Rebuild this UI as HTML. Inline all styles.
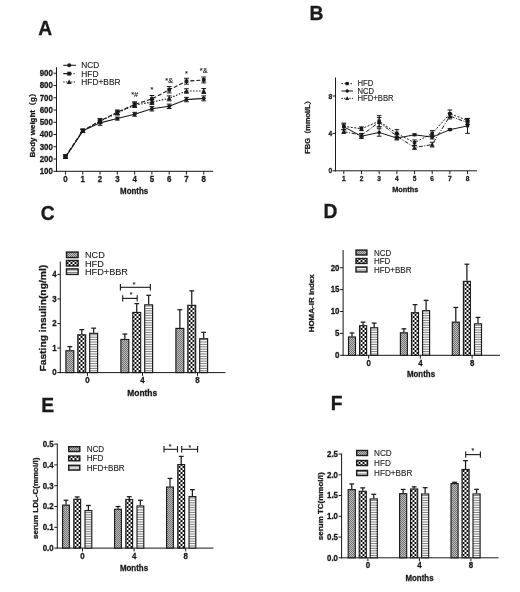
<!DOCTYPE html>
<html><head><meta charset="utf-8"><title>Figure</title>
<style>
html,body{margin:0;padding:0;background:#fff;}
svg{display:block;font-family:"Liberation Sans", "Noto Sans CJK SC", sans-serif;}
.b{font-weight:bold;fill:#1a1a1a;stroke:#1a1a1a;stroke-width:0.3px;}
.r{fill:#1a1a1a;stroke:#1a1a1a;stroke-width:0.12px;}
</style></head><body>
<svg width="520" height="592" viewBox="0 0 520 592">
<defs>
<pattern id="pN" width="2" height="2" patternUnits="userSpaceOnUse"><rect width="2" height="2" fill="#bdbdbd"/><rect width="1" height="1" fill="#737373"/><rect x="1" y="1" width="1" height="1" fill="#737373"/></pattern>
<pattern id="pH" width="4" height="4" patternUnits="userSpaceOnUse" x="0.5" y="0"><rect width="4" height="4" fill="#fff"/><rect width="2" height="2" fill="#111"/><rect x="2" y="2" width="2" height="2" fill="#111"/></pattern>
<pattern id="pB" width="12" height="12" patternUnits="userSpaceOnUse"><rect width="12" height="12" fill="#fff"/><rect width="12" height="1" y="0.7" fill="#7a7a7a"/><rect width="12" height="1" y="3.1" fill="#7a7a7a"/><rect width="12" height="1" y="5.5" fill="#7a7a7a"/><rect width="12" height="1" y="7.9" fill="#7a7a7a"/><rect width="12" height="1" y="10.3" fill="#7a7a7a"/></pattern>
</defs>
<filter id="bl" x="0" y="0" width="100%" height="100%" filterUnits="userSpaceOnUse"><feGaussianBlur stdDeviation="0.35"/></filter>
<rect width="520" height="592" fill="#fff"/>
<g filter="url(#bl)">

<text class="b" transform="translate(38.30 34.80) scale(1 1)" font-size="19.3" text-anchor="start">A</text>
<text class="b" transform="translate(309.50 20.20) scale(1 1)" font-size="19.3" text-anchor="start">B</text>
<text class="b" transform="translate(40.80 220.00) scale(1 1)" font-size="19.3" text-anchor="start">C</text>
<text class="b" transform="translate(323.60 218.20) scale(1 1)" font-size="19.3" text-anchor="start">D</text>
<text class="b" transform="translate(41.20 412.30) scale(1 1)" font-size="19.3" text-anchor="start">E</text>
<text class="b" transform="translate(330.80 409.50) scale(1 1)" font-size="19.3" text-anchor="start">F</text>
<line x1="56.50" y1="67.30" x2="56.50" y2="171.80" stroke="#1a1a1a" stroke-width="1.0"/>
<line x1="56.00" y1="171.30" x2="213.00" y2="171.30" stroke="#1a1a1a" stroke-width="1.0"/>
<line x1="53.50" y1="171.30" x2="56.50" y2="171.30" stroke="#1a1a1a" stroke-width="1"/>
<text class="b" transform="translate(52.90 174.10) scale(0.92 1)" font-size="8.6" text-anchor="end">100</text>
<line x1="53.50" y1="159.04" x2="56.50" y2="159.04" stroke="#1a1a1a" stroke-width="1"/>
<text class="b" transform="translate(52.90 161.84) scale(0.92 1)" font-size="8.6" text-anchor="end">200</text>
<line x1="53.50" y1="146.78" x2="56.50" y2="146.78" stroke="#1a1a1a" stroke-width="1"/>
<text class="b" transform="translate(52.90 149.58) scale(0.92 1)" font-size="8.6" text-anchor="end">300</text>
<line x1="53.50" y1="134.52" x2="56.50" y2="134.52" stroke="#1a1a1a" stroke-width="1"/>
<text class="b" transform="translate(52.90 137.32) scale(0.92 1)" font-size="8.6" text-anchor="end">400</text>
<line x1="53.50" y1="122.26" x2="56.50" y2="122.26" stroke="#1a1a1a" stroke-width="1"/>
<text class="b" transform="translate(52.90 125.06) scale(0.92 1)" font-size="8.6" text-anchor="end">500</text>
<line x1="53.50" y1="110.00" x2="56.50" y2="110.00" stroke="#1a1a1a" stroke-width="1"/>
<text class="b" transform="translate(52.90 112.80) scale(0.92 1)" font-size="8.6" text-anchor="end">600</text>
<line x1="53.50" y1="97.74" x2="56.50" y2="97.74" stroke="#1a1a1a" stroke-width="1"/>
<text class="b" transform="translate(52.90 100.54) scale(0.92 1)" font-size="8.6" text-anchor="end">700</text>
<line x1="53.50" y1="85.48" x2="56.50" y2="85.48" stroke="#1a1a1a" stroke-width="1"/>
<text class="b" transform="translate(52.90 88.28) scale(0.92 1)" font-size="8.6" text-anchor="end">800</text>
<line x1="53.50" y1="73.22" x2="56.50" y2="73.22" stroke="#1a1a1a" stroke-width="1"/>
<text class="b" transform="translate(52.90 76.02) scale(0.92 1)" font-size="8.6" text-anchor="end">900</text>
<line x1="65.50" y1="171.30" x2="65.50" y2="174.60" stroke="#1a1a1a" stroke-width="1"/>
<text class="b" transform="translate(65.50 181.60) scale(0.92 1)" font-size="8.6" text-anchor="middle">0</text>
<line x1="82.78" y1="171.30" x2="82.78" y2="174.60" stroke="#1a1a1a" stroke-width="1"/>
<text class="b" transform="translate(82.78 181.60) scale(0.92 1)" font-size="8.6" text-anchor="middle">1</text>
<line x1="100.06" y1="171.30" x2="100.06" y2="174.60" stroke="#1a1a1a" stroke-width="1"/>
<text class="b" transform="translate(100.06 181.60) scale(0.92 1)" font-size="8.6" text-anchor="middle">2</text>
<line x1="117.34" y1="171.30" x2="117.34" y2="174.60" stroke="#1a1a1a" stroke-width="1"/>
<text class="b" transform="translate(117.34 181.60) scale(0.92 1)" font-size="8.6" text-anchor="middle">3</text>
<line x1="134.62" y1="171.30" x2="134.62" y2="174.60" stroke="#1a1a1a" stroke-width="1"/>
<text class="b" transform="translate(134.62 181.60) scale(0.92 1)" font-size="8.6" text-anchor="middle">4</text>
<line x1="151.90" y1="171.30" x2="151.90" y2="174.60" stroke="#1a1a1a" stroke-width="1"/>
<text class="b" transform="translate(151.90 181.60) scale(0.92 1)" font-size="8.6" text-anchor="middle">5</text>
<line x1="169.18" y1="171.30" x2="169.18" y2="174.60" stroke="#1a1a1a" stroke-width="1"/>
<text class="b" transform="translate(169.18 181.60) scale(0.92 1)" font-size="8.6" text-anchor="middle">6</text>
<line x1="186.46" y1="171.30" x2="186.46" y2="174.60" stroke="#1a1a1a" stroke-width="1"/>
<text class="b" transform="translate(186.46 181.60) scale(0.92 1)" font-size="8.6" text-anchor="middle">7</text>
<line x1="203.74" y1="171.30" x2="203.74" y2="174.60" stroke="#1a1a1a" stroke-width="1"/>
<text class="b" transform="translate(203.74 181.60) scale(0.92 1)" font-size="8.6" text-anchor="middle">8</text>
<text class="b" transform="translate(134.10 194.00) scale(0.92 1)" font-size="8.6" text-anchor="middle">Months</text>
<text class="b" transform="translate(34.80 123.30) scale(0.92 1) rotate(-90)" font-size="8.0" text-anchor="middle">Body weight（g）</text>
<polyline points="65.50,157.20 82.78,130.84 100.06,122.87 117.34,118.58 134.62,114.29 151.90,108.77 169.18,106.32 186.46,99.58 203.74,98.35" fill="none" stroke="#1a1a1a" stroke-width="1.1"/>
<polyline points="65.50,156.34 82.78,130.60 100.06,121.03 117.34,112.21 134.62,104.48 151.90,98.97 169.18,89.77 186.46,81.19 203.74,79.96" fill="none" stroke="#1a1a1a" stroke-width="1.1" stroke-dasharray="4 2"/>
<polyline points="65.50,157.20 82.78,131.09 100.06,121.03 117.34,113.07 134.62,105.10 151.90,102.03 169.18,98.35 186.46,91.00 203.74,91.00" fill="none" stroke="#1a1a1a" stroke-width="1.1" stroke-dasharray="1.5 1.5"/>
<line x1="65.50" y1="154.63" x2="65.50" y2="158.06" stroke="#1a1a1a" stroke-width="1"/>
<line x1="63.10" y1="154.63" x2="67.90" y2="154.63" stroke="#1a1a1a" stroke-width="1"/>
<line x1="63.10" y1="158.06" x2="67.90" y2="158.06" stroke="#1a1a1a" stroke-width="1"/>
<rect x="63.66" y="154.50" width="3.69" height="3.69" fill="#1a1a1a"/>
<line x1="82.78" y1="128.88" x2="82.78" y2="132.31" stroke="#1a1a1a" stroke-width="1"/>
<line x1="80.38" y1="128.88" x2="85.18" y2="128.88" stroke="#1a1a1a" stroke-width="1"/>
<line x1="80.38" y1="132.31" x2="85.18" y2="132.31" stroke="#1a1a1a" stroke-width="1"/>
<rect x="80.94" y="128.75" width="3.69" height="3.69" fill="#1a1a1a"/>
<line x1="100.06" y1="118.58" x2="100.06" y2="123.49" stroke="#1a1a1a" stroke-width="1"/>
<line x1="97.66" y1="118.58" x2="102.46" y2="118.58" stroke="#1a1a1a" stroke-width="1"/>
<line x1="97.66" y1="123.49" x2="102.46" y2="123.49" stroke="#1a1a1a" stroke-width="1"/>
<rect x="98.22" y="119.19" width="3.69" height="3.69" fill="#1a1a1a"/>
<line x1="117.34" y1="110.00" x2="117.34" y2="114.41" stroke="#1a1a1a" stroke-width="1"/>
<line x1="114.94" y1="110.00" x2="119.74" y2="110.00" stroke="#1a1a1a" stroke-width="1"/>
<line x1="114.94" y1="114.41" x2="119.74" y2="114.41" stroke="#1a1a1a" stroke-width="1"/>
<rect x="115.50" y="110.36" width="3.69" height="3.69" fill="#1a1a1a"/>
<line x1="134.62" y1="101.79" x2="134.62" y2="107.18" stroke="#1a1a1a" stroke-width="1"/>
<line x1="132.22" y1="101.79" x2="137.02" y2="101.79" stroke="#1a1a1a" stroke-width="1"/>
<line x1="132.22" y1="107.18" x2="137.02" y2="107.18" stroke="#1a1a1a" stroke-width="1"/>
<rect x="132.78" y="102.64" width="3.69" height="3.69" fill="#1a1a1a"/>
<line x1="151.90" y1="95.53" x2="151.90" y2="102.40" stroke="#1a1a1a" stroke-width="1"/>
<line x1="149.50" y1="95.53" x2="154.30" y2="95.53" stroke="#1a1a1a" stroke-width="1"/>
<line x1="149.50" y1="102.40" x2="154.30" y2="102.40" stroke="#1a1a1a" stroke-width="1"/>
<rect x="150.06" y="97.12" width="3.69" height="3.69" fill="#1a1a1a"/>
<line x1="169.18" y1="86.58" x2="169.18" y2="92.96" stroke="#1a1a1a" stroke-width="1"/>
<line x1="166.78" y1="86.58" x2="171.58" y2="86.58" stroke="#1a1a1a" stroke-width="1"/>
<line x1="166.78" y1="92.96" x2="171.58" y2="92.96" stroke="#1a1a1a" stroke-width="1"/>
<rect x="167.34" y="87.93" width="3.69" height="3.69" fill="#1a1a1a"/>
<line x1="186.46" y1="78.25" x2="186.46" y2="84.13" stroke="#1a1a1a" stroke-width="1"/>
<line x1="184.06" y1="78.25" x2="188.86" y2="78.25" stroke="#1a1a1a" stroke-width="1"/>
<line x1="184.06" y1="84.13" x2="188.86" y2="84.13" stroke="#1a1a1a" stroke-width="1"/>
<rect x="184.62" y="79.35" width="3.69" height="3.69" fill="#1a1a1a"/>
<line x1="203.74" y1="77.02" x2="203.74" y2="82.91" stroke="#1a1a1a" stroke-width="1"/>
<line x1="201.34" y1="77.02" x2="206.14" y2="77.02" stroke="#1a1a1a" stroke-width="1"/>
<line x1="201.34" y1="82.91" x2="206.14" y2="82.91" stroke="#1a1a1a" stroke-width="1"/>
<rect x="201.90" y="78.12" width="3.69" height="3.69" fill="#1a1a1a"/>
<line x1="65.50" y1="155.98" x2="65.50" y2="158.43" stroke="#1a1a1a" stroke-width="1"/>
<line x1="63.10" y1="155.98" x2="67.90" y2="155.98" stroke="#1a1a1a" stroke-width="1"/>
<line x1="63.10" y1="158.43" x2="67.90" y2="158.43" stroke="#1a1a1a" stroke-width="1"/>
<polygon points="65.50,154.83 63.12,159.10 67.88,159.10" fill="#1a1a1a"/>
<line x1="82.78" y1="129.62" x2="82.78" y2="132.56" stroke="#1a1a1a" stroke-width="1"/>
<line x1="80.38" y1="129.62" x2="85.18" y2="129.62" stroke="#1a1a1a" stroke-width="1"/>
<line x1="80.38" y1="132.56" x2="85.18" y2="132.56" stroke="#1a1a1a" stroke-width="1"/>
<polygon points="82.78,128.71 80.41,132.99 85.16,132.99" fill="#1a1a1a"/>
<line x1="100.06" y1="119.07" x2="100.06" y2="123.00" stroke="#1a1a1a" stroke-width="1"/>
<line x1="97.66" y1="119.07" x2="102.46" y2="119.07" stroke="#1a1a1a" stroke-width="1"/>
<line x1="97.66" y1="123.00" x2="102.46" y2="123.00" stroke="#1a1a1a" stroke-width="1"/>
<polygon points="100.06,118.66 97.69,122.93 102.44,122.93" fill="#1a1a1a"/>
<line x1="117.34" y1="111.10" x2="117.34" y2="115.03" stroke="#1a1a1a" stroke-width="1"/>
<line x1="114.94" y1="111.10" x2="119.74" y2="111.10" stroke="#1a1a1a" stroke-width="1"/>
<line x1="114.94" y1="115.03" x2="119.74" y2="115.03" stroke="#1a1a1a" stroke-width="1"/>
<polygon points="117.34,110.69 114.97,114.97 119.72,114.97" fill="#1a1a1a"/>
<line x1="134.62" y1="102.89" x2="134.62" y2="107.30" stroke="#1a1a1a" stroke-width="1"/>
<line x1="132.22" y1="102.89" x2="137.02" y2="102.89" stroke="#1a1a1a" stroke-width="1"/>
<line x1="132.22" y1="107.30" x2="137.02" y2="107.30" stroke="#1a1a1a" stroke-width="1"/>
<polygon points="134.62,102.72 132.25,107.00 137.00,107.00" fill="#1a1a1a"/>
<line x1="151.90" y1="99.58" x2="151.90" y2="104.48" stroke="#1a1a1a" stroke-width="1"/>
<line x1="149.50" y1="99.58" x2="154.30" y2="99.58" stroke="#1a1a1a" stroke-width="1"/>
<line x1="149.50" y1="104.48" x2="154.30" y2="104.48" stroke="#1a1a1a" stroke-width="1"/>
<polygon points="151.90,99.66 149.53,103.93 154.28,103.93" fill="#1a1a1a"/>
<line x1="169.18" y1="95.90" x2="169.18" y2="100.81" stroke="#1a1a1a" stroke-width="1"/>
<line x1="166.78" y1="95.90" x2="171.58" y2="95.90" stroke="#1a1a1a" stroke-width="1"/>
<line x1="166.78" y1="100.81" x2="171.58" y2="100.81" stroke="#1a1a1a" stroke-width="1"/>
<polygon points="169.18,95.98 166.81,100.25 171.56,100.25" fill="#1a1a1a"/>
<line x1="186.46" y1="88.79" x2="186.46" y2="93.20" stroke="#1a1a1a" stroke-width="1"/>
<line x1="184.06" y1="88.79" x2="188.86" y2="88.79" stroke="#1a1a1a" stroke-width="1"/>
<line x1="184.06" y1="93.20" x2="188.86" y2="93.20" stroke="#1a1a1a" stroke-width="1"/>
<polygon points="186.46,88.62 184.09,92.90 188.84,92.90" fill="#1a1a1a"/>
<line x1="203.74" y1="88.55" x2="203.74" y2="93.45" stroke="#1a1a1a" stroke-width="1"/>
<line x1="201.34" y1="88.55" x2="206.14" y2="88.55" stroke="#1a1a1a" stroke-width="1"/>
<line x1="201.34" y1="93.45" x2="206.14" y2="93.45" stroke="#1a1a1a" stroke-width="1"/>
<polygon points="203.74,88.62 201.37,92.90 206.12,92.90" fill="#1a1a1a"/>
<line x1="65.50" y1="155.98" x2="65.50" y2="158.43" stroke="#1a1a1a" stroke-width="1"/>
<line x1="63.10" y1="155.98" x2="67.90" y2="155.98" stroke="#1a1a1a" stroke-width="1"/>
<line x1="63.10" y1="158.43" x2="67.90" y2="158.43" stroke="#1a1a1a" stroke-width="1"/>
<circle cx="65.50" cy="157.20" r="1.9" fill="#1a1a1a"/>
<line x1="82.78" y1="129.37" x2="82.78" y2="132.31" stroke="#1a1a1a" stroke-width="1"/>
<line x1="80.38" y1="129.37" x2="85.18" y2="129.37" stroke="#1a1a1a" stroke-width="1"/>
<line x1="80.38" y1="132.31" x2="85.18" y2="132.31" stroke="#1a1a1a" stroke-width="1"/>
<circle cx="82.78" cy="130.84" r="1.9" fill="#1a1a1a"/>
<line x1="100.06" y1="120.42" x2="100.06" y2="125.33" stroke="#1a1a1a" stroke-width="1"/>
<line x1="97.66" y1="120.42" x2="102.46" y2="120.42" stroke="#1a1a1a" stroke-width="1"/>
<line x1="97.66" y1="125.33" x2="102.46" y2="125.33" stroke="#1a1a1a" stroke-width="1"/>
<circle cx="100.06" cy="122.87" r="1.9" fill="#1a1a1a"/>
<line x1="117.34" y1="117.11" x2="117.34" y2="120.05" stroke="#1a1a1a" stroke-width="1"/>
<line x1="114.94" y1="117.11" x2="119.74" y2="117.11" stroke="#1a1a1a" stroke-width="1"/>
<line x1="114.94" y1="120.05" x2="119.74" y2="120.05" stroke="#1a1a1a" stroke-width="1"/>
<circle cx="117.34" cy="118.58" r="1.9" fill="#1a1a1a"/>
<line x1="134.62" y1="112.33" x2="134.62" y2="116.25" stroke="#1a1a1a" stroke-width="1"/>
<line x1="132.22" y1="112.33" x2="137.02" y2="112.33" stroke="#1a1a1a" stroke-width="1"/>
<line x1="132.22" y1="116.25" x2="137.02" y2="116.25" stroke="#1a1a1a" stroke-width="1"/>
<circle cx="134.62" cy="114.29" r="1.9" fill="#1a1a1a"/>
<line x1="151.90" y1="106.57" x2="151.90" y2="110.98" stroke="#1a1a1a" stroke-width="1"/>
<line x1="149.50" y1="106.57" x2="154.30" y2="106.57" stroke="#1a1a1a" stroke-width="1"/>
<line x1="149.50" y1="110.98" x2="154.30" y2="110.98" stroke="#1a1a1a" stroke-width="1"/>
<circle cx="151.90" cy="108.77" r="1.9" fill="#1a1a1a"/>
<line x1="169.18" y1="104.12" x2="169.18" y2="108.53" stroke="#1a1a1a" stroke-width="1"/>
<line x1="166.78" y1="104.12" x2="171.58" y2="104.12" stroke="#1a1a1a" stroke-width="1"/>
<line x1="166.78" y1="108.53" x2="171.58" y2="108.53" stroke="#1a1a1a" stroke-width="1"/>
<circle cx="169.18" cy="106.32" r="1.9" fill="#1a1a1a"/>
<line x1="186.46" y1="97.37" x2="186.46" y2="101.79" stroke="#1a1a1a" stroke-width="1"/>
<line x1="184.06" y1="97.37" x2="188.86" y2="97.37" stroke="#1a1a1a" stroke-width="1"/>
<line x1="184.06" y1="101.79" x2="188.86" y2="101.79" stroke="#1a1a1a" stroke-width="1"/>
<circle cx="186.46" cy="99.58" r="1.9" fill="#1a1a1a"/>
<line x1="203.74" y1="95.90" x2="203.74" y2="100.81" stroke="#1a1a1a" stroke-width="1"/>
<line x1="201.34" y1="95.90" x2="206.14" y2="95.90" stroke="#1a1a1a" stroke-width="1"/>
<line x1="201.34" y1="100.81" x2="206.14" y2="100.81" stroke="#1a1a1a" stroke-width="1"/>
<circle cx="203.74" cy="98.35" r="1.9" fill="#1a1a1a"/>
<line x1="63.30" y1="65.30" x2="75.80" y2="65.30" stroke="#1a1a1a" stroke-width="1.1"/>
<circle cx="69.20" cy="65.30" r="2.0" fill="#1a1a1a"/>
<text class="r" transform="translate(81.30 68.30) scale(0.9 1)" font-size="9.3" text-anchor="start">NCD</text>
<line x1="63.30" y1="73.65" x2="75.80" y2="73.65" stroke="#1a1a1a" stroke-width="1.1" stroke-dasharray="8.5 1.8 1 10"/>
<rect x="67.26" y="71.71" width="3.88" height="3.88" fill="#1a1a1a"/>
<text class="r" transform="translate(81.30 76.65) scale(0.9 1)" font-size="9.3" text-anchor="start">HFD</text>
<line x1="63.30" y1="82.00" x2="75.80" y2="82.00" stroke="#1a1a1a" stroke-width="1.1" stroke-dasharray="1.3 1.3"/>
<polygon points="69.20,79.50 66.70,84.00 71.70,84.00" fill="#1a1a1a"/>
<text class="r" transform="translate(81.30 85.00) scale(0.9 1)" font-size="9.3" text-anchor="start">HFD+BBR</text>
<text class="r" transform="translate(134.62 96.55) scale(0.92 1)" font-size="8" text-anchor="middle">*#</text>
<text class="r" transform="translate(151.90 92.02) scale(0.92 1)" font-size="8" text-anchor="middle">*</text>
<text class="r" transform="translate(169.18 83.07) scale(0.92 1)" font-size="8" text-anchor="middle">*&amp;</text>
<text class="r" transform="translate(186.46 76.08) scale(0.92 1)" font-size="8" text-anchor="middle">*</text>
<text class="r" transform="translate(203.74 72.52) scale(0.92 1)" font-size="8" text-anchor="middle">*&amp;</text>
<line x1="335.50" y1="77.50" x2="335.50" y2="171.30" stroke="#1a1a1a" stroke-width="1.0"/>
<line x1="335.00" y1="170.80" x2="477.00" y2="170.80" stroke="#1a1a1a" stroke-width="1.0"/>
<line x1="332.50" y1="170.80" x2="335.50" y2="170.80" stroke="#1a1a1a" stroke-width="1"/>
<text class="b" transform="translate(332.10 173.30) scale(0.92 1)" font-size="7.2" text-anchor="end">0</text>
<line x1="332.50" y1="133.40" x2="335.50" y2="133.40" stroke="#1a1a1a" stroke-width="1"/>
<text class="b" transform="translate(332.10 135.90) scale(0.92 1)" font-size="7.2" text-anchor="end">4</text>
<line x1="332.50" y1="96.00" x2="335.50" y2="96.00" stroke="#1a1a1a" stroke-width="1"/>
<text class="b" transform="translate(332.10 98.50) scale(0.92 1)" font-size="7.2" text-anchor="end">8</text>
<line x1="343.80" y1="170.80" x2="343.80" y2="174.10" stroke="#1a1a1a" stroke-width="1"/>
<text class="b" transform="translate(343.80 180.60) scale(0.92 1)" font-size="7.2" text-anchor="middle">1</text>
<line x1="361.48" y1="170.80" x2="361.48" y2="174.10" stroke="#1a1a1a" stroke-width="1"/>
<text class="b" transform="translate(361.48 180.60) scale(0.92 1)" font-size="7.2" text-anchor="middle">2</text>
<line x1="379.16" y1="170.80" x2="379.16" y2="174.10" stroke="#1a1a1a" stroke-width="1"/>
<text class="b" transform="translate(379.16 180.60) scale(0.92 1)" font-size="7.2" text-anchor="middle">3</text>
<line x1="396.84" y1="170.80" x2="396.84" y2="174.10" stroke="#1a1a1a" stroke-width="1"/>
<text class="b" transform="translate(396.84 180.60) scale(0.92 1)" font-size="7.2" text-anchor="middle">4</text>
<line x1="414.52" y1="170.80" x2="414.52" y2="174.10" stroke="#1a1a1a" stroke-width="1"/>
<text class="b" transform="translate(414.52 180.60) scale(0.92 1)" font-size="7.2" text-anchor="middle">5</text>
<line x1="432.20" y1="170.80" x2="432.20" y2="174.10" stroke="#1a1a1a" stroke-width="1"/>
<text class="b" transform="translate(432.20 180.60) scale(0.92 1)" font-size="7.2" text-anchor="middle">6</text>
<line x1="449.88" y1="170.80" x2="449.88" y2="174.10" stroke="#1a1a1a" stroke-width="1"/>
<text class="b" transform="translate(449.88 180.60) scale(0.92 1)" font-size="7.2" text-anchor="middle">7</text>
<line x1="467.56" y1="170.80" x2="467.56" y2="174.10" stroke="#1a1a1a" stroke-width="1"/>
<text class="b" transform="translate(467.56 180.60) scale(0.92 1)" font-size="7.2" text-anchor="middle">8</text>
<text class="b" transform="translate(405.30 191.90) scale(0.92 1)" font-size="8.0" text-anchor="middle">Months</text>
<text class="b" transform="translate(310.00 125.30) scale(0.92 1) rotate(-90)" font-size="7.4" text-anchor="middle">FBG（mmol/L）</text>
<polyline points="343.80,126.39 361.48,128.73 379.16,121.25 396.84,133.40 414.52,142.75 432.20,133.40 449.88,113.77 467.56,120.31" fill="none" stroke="#1a1a1a" stroke-width="1" stroke-dasharray="2 1.5"/>
<polyline points="343.80,126.86 361.48,136.21 379.16,132.47 396.84,138.08 414.52,134.80 432.20,137.14 449.88,129.66 467.56,125.92" fill="none" stroke="#1a1a1a" stroke-width="1"/>
<polyline points="343.80,131.53 361.48,135.27 379.16,122.18 396.84,136.21 414.52,147.43 432.20,144.62 449.88,116.10 467.56,122.65" fill="none" stroke="#1a1a1a" stroke-width="1" stroke-dasharray="4 1.5 1 1.5"/>
<line x1="343.80" y1="123.12" x2="343.80" y2="129.66" stroke="#1a1a1a" stroke-width="1"/>
<line x1="341.50" y1="123.12" x2="346.10" y2="123.12" stroke="#1a1a1a" stroke-width="1"/>
<line x1="341.50" y1="129.66" x2="346.10" y2="129.66" stroke="#1a1a1a" stroke-width="1"/>
<rect x="342.05" y="124.64" width="3.49" height="3.49" fill="#1a1a1a"/>
<line x1="361.48" y1="126.86" x2="361.48" y2="130.60" stroke="#1a1a1a" stroke-width="1"/>
<line x1="359.18" y1="126.86" x2="363.78" y2="126.86" stroke="#1a1a1a" stroke-width="1"/>
<line x1="359.18" y1="130.60" x2="363.78" y2="130.60" stroke="#1a1a1a" stroke-width="1"/>
<rect x="359.73" y="126.98" width="3.49" height="3.49" fill="#1a1a1a"/>
<line x1="379.16" y1="115.64" x2="379.16" y2="126.86" stroke="#1a1a1a" stroke-width="1"/>
<line x1="376.86" y1="115.64" x2="381.46" y2="115.64" stroke="#1a1a1a" stroke-width="1"/>
<line x1="376.86" y1="126.86" x2="381.46" y2="126.86" stroke="#1a1a1a" stroke-width="1"/>
<rect x="377.41" y="119.50" width="3.49" height="3.49" fill="#1a1a1a"/>
<line x1="396.84" y1="129.66" x2="396.84" y2="137.14" stroke="#1a1a1a" stroke-width="1"/>
<line x1="394.54" y1="129.66" x2="399.14" y2="129.66" stroke="#1a1a1a" stroke-width="1"/>
<line x1="394.54" y1="137.14" x2="399.14" y2="137.14" stroke="#1a1a1a" stroke-width="1"/>
<rect x="395.09" y="131.65" width="3.49" height="3.49" fill="#1a1a1a"/>
<line x1="414.52" y1="139.95" x2="414.52" y2="145.56" stroke="#1a1a1a" stroke-width="1"/>
<line x1="412.22" y1="139.95" x2="416.82" y2="139.95" stroke="#1a1a1a" stroke-width="1"/>
<line x1="412.22" y1="145.56" x2="416.82" y2="145.56" stroke="#1a1a1a" stroke-width="1"/>
<rect x="412.77" y="141.00" width="3.49" height="3.49" fill="#1a1a1a"/>
<line x1="432.20" y1="130.60" x2="432.20" y2="136.21" stroke="#1a1a1a" stroke-width="1"/>
<line x1="429.90" y1="130.60" x2="434.50" y2="130.60" stroke="#1a1a1a" stroke-width="1"/>
<line x1="429.90" y1="136.21" x2="434.50" y2="136.21" stroke="#1a1a1a" stroke-width="1"/>
<rect x="430.45" y="131.65" width="3.49" height="3.49" fill="#1a1a1a"/>
<line x1="449.88" y1="110.03" x2="449.88" y2="117.51" stroke="#1a1a1a" stroke-width="1"/>
<line x1="447.58" y1="110.03" x2="452.18" y2="110.03" stroke="#1a1a1a" stroke-width="1"/>
<line x1="447.58" y1="117.51" x2="452.18" y2="117.51" stroke="#1a1a1a" stroke-width="1"/>
<rect x="448.13" y="112.02" width="3.49" height="3.49" fill="#1a1a1a"/>
<line x1="467.56" y1="118.44" x2="467.56" y2="122.18" stroke="#1a1a1a" stroke-width="1"/>
<line x1="465.26" y1="118.44" x2="469.86" y2="118.44" stroke="#1a1a1a" stroke-width="1"/>
<line x1="465.26" y1="122.18" x2="469.86" y2="122.18" stroke="#1a1a1a" stroke-width="1"/>
<rect x="465.81" y="118.56" width="3.49" height="3.49" fill="#1a1a1a"/>
<line x1="343.80" y1="124.05" x2="343.80" y2="129.66" stroke="#1a1a1a" stroke-width="1"/>
<line x1="341.50" y1="124.05" x2="346.10" y2="124.05" stroke="#1a1a1a" stroke-width="1"/>
<line x1="341.50" y1="129.66" x2="346.10" y2="129.66" stroke="#1a1a1a" stroke-width="1"/>
<circle cx="343.80" cy="126.86" r="1.8" fill="#1a1a1a"/>
<line x1="361.48" y1="133.87" x2="361.48" y2="138.54" stroke="#1a1a1a" stroke-width="1"/>
<line x1="359.18" y1="133.87" x2="363.78" y2="133.87" stroke="#1a1a1a" stroke-width="1"/>
<line x1="359.18" y1="138.54" x2="363.78" y2="138.54" stroke="#1a1a1a" stroke-width="1"/>
<circle cx="361.48" cy="136.21" r="1.8" fill="#1a1a1a"/>
<line x1="379.16" y1="128.73" x2="379.16" y2="136.21" stroke="#1a1a1a" stroke-width="1"/>
<line x1="376.86" y1="128.73" x2="381.46" y2="128.73" stroke="#1a1a1a" stroke-width="1"/>
<line x1="376.86" y1="136.21" x2="381.46" y2="136.21" stroke="#1a1a1a" stroke-width="1"/>
<circle cx="379.16" cy="132.47" r="1.8" fill="#1a1a1a"/>
<line x1="396.84" y1="136.21" x2="396.84" y2="139.95" stroke="#1a1a1a" stroke-width="1"/>
<line x1="394.54" y1="136.21" x2="399.14" y2="136.21" stroke="#1a1a1a" stroke-width="1"/>
<line x1="394.54" y1="139.95" x2="399.14" y2="139.95" stroke="#1a1a1a" stroke-width="1"/>
<circle cx="396.84" cy="138.08" r="1.8" fill="#1a1a1a"/>
<line x1="414.52" y1="133.87" x2="414.52" y2="135.74" stroke="#1a1a1a" stroke-width="1"/>
<line x1="412.22" y1="133.87" x2="416.82" y2="133.87" stroke="#1a1a1a" stroke-width="1"/>
<line x1="412.22" y1="135.74" x2="416.82" y2="135.74" stroke="#1a1a1a" stroke-width="1"/>
<circle cx="414.52" cy="134.80" r="1.8" fill="#1a1a1a"/>
<line x1="432.20" y1="135.27" x2="432.20" y2="139.01" stroke="#1a1a1a" stroke-width="1"/>
<line x1="429.90" y1="135.27" x2="434.50" y2="135.27" stroke="#1a1a1a" stroke-width="1"/>
<line x1="429.90" y1="139.01" x2="434.50" y2="139.01" stroke="#1a1a1a" stroke-width="1"/>
<circle cx="432.20" cy="137.14" r="1.8" fill="#1a1a1a"/>
<line x1="449.88" y1="128.73" x2="449.88" y2="130.59" stroke="#1a1a1a" stroke-width="1"/>
<line x1="447.58" y1="128.73" x2="452.18" y2="128.73" stroke="#1a1a1a" stroke-width="1"/>
<line x1="447.58" y1="130.59" x2="452.18" y2="130.59" stroke="#1a1a1a" stroke-width="1"/>
<circle cx="449.88" cy="129.66" r="1.8" fill="#1a1a1a"/>
<line x1="467.56" y1="118.44" x2="467.56" y2="133.40" stroke="#1a1a1a" stroke-width="1"/>
<line x1="465.26" y1="118.44" x2="469.86" y2="118.44" stroke="#1a1a1a" stroke-width="1"/>
<line x1="465.26" y1="133.40" x2="469.86" y2="133.40" stroke="#1a1a1a" stroke-width="1"/>
<circle cx="467.56" cy="125.92" r="1.8" fill="#1a1a1a"/>
<line x1="343.80" y1="129.66" x2="343.80" y2="133.40" stroke="#1a1a1a" stroke-width="1"/>
<line x1="341.50" y1="129.66" x2="346.10" y2="129.66" stroke="#1a1a1a" stroke-width="1"/>
<line x1="341.50" y1="133.40" x2="346.10" y2="133.40" stroke="#1a1a1a" stroke-width="1"/>
<polygon points="343.80,129.28 341.55,133.33 346.05,133.33" fill="#1a1a1a"/>
<line x1="361.48" y1="133.40" x2="361.48" y2="137.14" stroke="#1a1a1a" stroke-width="1"/>
<line x1="359.18" y1="133.40" x2="363.78" y2="133.40" stroke="#1a1a1a" stroke-width="1"/>
<line x1="359.18" y1="137.14" x2="363.78" y2="137.14" stroke="#1a1a1a" stroke-width="1"/>
<polygon points="361.48,133.02 359.23,137.07 363.73,137.07" fill="#1a1a1a"/>
<line x1="379.16" y1="117.51" x2="379.16" y2="126.86" stroke="#1a1a1a" stroke-width="1"/>
<line x1="376.86" y1="117.51" x2="381.46" y2="117.51" stroke="#1a1a1a" stroke-width="1"/>
<line x1="376.86" y1="126.86" x2="381.46" y2="126.86" stroke="#1a1a1a" stroke-width="1"/>
<polygon points="379.16,119.93 376.91,123.98 381.41,123.98" fill="#1a1a1a"/>
<line x1="396.84" y1="133.40" x2="396.84" y2="139.01" stroke="#1a1a1a" stroke-width="1"/>
<line x1="394.54" y1="133.40" x2="399.14" y2="133.40" stroke="#1a1a1a" stroke-width="1"/>
<line x1="394.54" y1="139.01" x2="399.14" y2="139.01" stroke="#1a1a1a" stroke-width="1"/>
<polygon points="396.84,133.96 394.59,138.01 399.09,138.01" fill="#1a1a1a"/>
<line x1="414.52" y1="145.56" x2="414.52" y2="149.30" stroke="#1a1a1a" stroke-width="1"/>
<line x1="412.22" y1="145.56" x2="416.82" y2="145.56" stroke="#1a1a1a" stroke-width="1"/>
<line x1="412.22" y1="149.30" x2="416.82" y2="149.30" stroke="#1a1a1a" stroke-width="1"/>
<polygon points="414.52,145.18 412.27,149.23 416.77,149.23" fill="#1a1a1a"/>
<line x1="432.20" y1="142.28" x2="432.20" y2="146.96" stroke="#1a1a1a" stroke-width="1"/>
<line x1="429.90" y1="142.28" x2="434.50" y2="142.28" stroke="#1a1a1a" stroke-width="1"/>
<line x1="429.90" y1="146.96" x2="434.50" y2="146.96" stroke="#1a1a1a" stroke-width="1"/>
<polygon points="432.20,142.37 429.95,146.42 434.45,146.42" fill="#1a1a1a"/>
<line x1="449.88" y1="113.30" x2="449.88" y2="118.91" stroke="#1a1a1a" stroke-width="1"/>
<line x1="447.58" y1="113.30" x2="452.18" y2="113.30" stroke="#1a1a1a" stroke-width="1"/>
<line x1="447.58" y1="118.91" x2="452.18" y2="118.91" stroke="#1a1a1a" stroke-width="1"/>
<polygon points="449.88,113.85 447.63,117.90 452.13,117.90" fill="#1a1a1a"/>
<line x1="467.56" y1="120.78" x2="467.56" y2="124.52" stroke="#1a1a1a" stroke-width="1"/>
<line x1="465.26" y1="120.78" x2="469.86" y2="120.78" stroke="#1a1a1a" stroke-width="1"/>
<line x1="465.26" y1="124.52" x2="469.86" y2="124.52" stroke="#1a1a1a" stroke-width="1"/>
<polygon points="467.56,120.40 465.31,124.45 469.81,124.45" fill="#1a1a1a"/>
<line x1="341.50" y1="83.60" x2="353.00" y2="83.60" stroke="#1a1a1a" stroke-width="1" stroke-dasharray="1.5 1.5"/>
<rect x="345.55" y="81.95" width="3.30" height="3.30" fill="#1a1a1a"/>
<text class="r" transform="translate(357.50 86.40) scale(0.865 1)" font-size="8.9" text-anchor="start">HFD</text>
<line x1="341.50" y1="91.00" x2="353.00" y2="91.00" stroke="#1a1a1a" stroke-width="1"/>
<circle cx="347.20" cy="91.00" r="1.7" fill="#1a1a1a"/>
<text class="r" transform="translate(357.50 93.80) scale(0.865 1)" font-size="8.9" text-anchor="start">NCD</text>
<line x1="341.50" y1="98.40" x2="353.00" y2="98.40" stroke="#1a1a1a" stroke-width="1" stroke-dasharray="1.3 1.3"/>
<polygon points="347.20,96.27 345.07,100.10 349.32,100.10" fill="#1a1a1a"/>
<text class="r" transform="translate(357.50 101.20) scale(0.865 1)" font-size="8.9" text-anchor="start">HFD+BBR</text>
<line x1="60.30" y1="261.60" x2="60.30" y2="373.10" stroke="#1a1a1a" stroke-width="1.0"/>
<line x1="59.80" y1="372.60" x2="225.50" y2="372.60" stroke="#1a1a1a" stroke-width="1.0"/>
<line x1="57.30" y1="372.60" x2="60.30" y2="372.60" stroke="#1a1a1a" stroke-width="1"/>
<text class="b" transform="translate(56.70 375.40) scale(0.92 1)" font-size="8.6" text-anchor="end">0</text>
<line x1="57.30" y1="348.05" x2="60.30" y2="348.05" stroke="#1a1a1a" stroke-width="1"/>
<text class="b" transform="translate(56.70 350.85) scale(0.92 1)" font-size="8.6" text-anchor="end">1</text>
<line x1="57.30" y1="323.50" x2="60.30" y2="323.50" stroke="#1a1a1a" stroke-width="1"/>
<text class="b" transform="translate(56.70 326.30) scale(0.92 1)" font-size="8.6" text-anchor="end">2</text>
<line x1="57.30" y1="298.95" x2="60.30" y2="298.95" stroke="#1a1a1a" stroke-width="1"/>
<text class="b" transform="translate(56.70 301.75) scale(0.92 1)" font-size="8.6" text-anchor="end">3</text>
<line x1="57.30" y1="274.40" x2="60.30" y2="274.40" stroke="#1a1a1a" stroke-width="1"/>
<text class="b" transform="translate(56.70 277.20) scale(0.92 1)" font-size="8.6" text-anchor="end">4</text>
<line x1="87.50" y1="372.60" x2="87.50" y2="375.90" stroke="#1a1a1a" stroke-width="1"/>
<text class="b" transform="translate(87.50 383.20) scale(0.92 1)" font-size="8.6" text-anchor="middle">0</text>
<line x1="142.50" y1="372.60" x2="142.50" y2="375.90" stroke="#1a1a1a" stroke-width="1"/>
<text class="b" transform="translate(142.50 383.20) scale(0.92 1)" font-size="8.6" text-anchor="middle">4</text>
<line x1="197.50" y1="372.60" x2="197.50" y2="375.90" stroke="#1a1a1a" stroke-width="1"/>
<text class="b" transform="translate(197.50 383.20) scale(0.92 1)" font-size="8.6" text-anchor="middle">8</text>
<text class="b" transform="translate(142.20 396.30) scale(0.92 1)" font-size="9.2" text-anchor="middle">Months</text>
<text class="b" transform="translate(46.30 318.20) scale(0.92 1) rotate(-90)" font-size="10.3" text-anchor="middle">Fasting insulin(ng/ml)</text>
<line x1="69.85" y1="350.26" x2="69.85" y2="346.58" stroke="#1a1a1a" stroke-width="1.25"/>
<line x1="67.45" y1="346.58" x2="72.25" y2="346.58" stroke="#1a1a1a" stroke-width="1.25"/>
<rect x="65.90" y="350.76" width="7.90" height="21.84" fill="url(#pN)" stroke="#1a1a1a" stroke-width="1.15"/>
<line x1="81.75" y1="334.30" x2="81.75" y2="329.64" stroke="#1a1a1a" stroke-width="1.25"/>
<line x1="79.35" y1="329.64" x2="84.15" y2="329.64" stroke="#1a1a1a" stroke-width="1.25"/>
<rect x="77.80" y="334.80" width="7.90" height="37.80" fill="url(#pH)" stroke="#1a1a1a" stroke-width="1.15"/>
<line x1="93.65" y1="332.83" x2="93.65" y2="328.16" stroke="#1a1a1a" stroke-width="1.25"/>
<line x1="91.25" y1="328.16" x2="96.05" y2="328.16" stroke="#1a1a1a" stroke-width="1.25"/>
<rect x="89.70" y="333.33" width="7.90" height="39.27" fill="url(#pB)" stroke="#1a1a1a" stroke-width="1.15"/>
<line x1="124.85" y1="338.97" x2="124.85" y2="334.06" stroke="#1a1a1a" stroke-width="1.25"/>
<line x1="122.45" y1="334.06" x2="127.25" y2="334.06" stroke="#1a1a1a" stroke-width="1.25"/>
<rect x="120.90" y="339.47" width="7.90" height="33.13" fill="url(#pN)" stroke="#1a1a1a" stroke-width="1.15"/>
<line x1="136.75" y1="311.96" x2="136.75" y2="303.61" stroke="#1a1a1a" stroke-width="1.25"/>
<line x1="134.35" y1="303.61" x2="139.15" y2="303.61" stroke="#1a1a1a" stroke-width="1.25"/>
<rect x="132.80" y="312.46" width="7.90" height="60.14" fill="url(#pH)" stroke="#1a1a1a" stroke-width="1.15"/>
<line x1="148.65" y1="304.35" x2="148.65" y2="295.27" stroke="#1a1a1a" stroke-width="1.25"/>
<line x1="146.25" y1="295.27" x2="151.05" y2="295.27" stroke="#1a1a1a" stroke-width="1.25"/>
<rect x="144.70" y="304.85" width="7.90" height="67.75" fill="url(#pB)" stroke="#1a1a1a" stroke-width="1.15"/>
<line x1="179.85" y1="327.92" x2="179.85" y2="309.75" stroke="#1a1a1a" stroke-width="1.25"/>
<line x1="177.45" y1="309.75" x2="182.25" y2="309.75" stroke="#1a1a1a" stroke-width="1.25"/>
<rect x="175.90" y="328.42" width="7.90" height="44.18" fill="url(#pN)" stroke="#1a1a1a" stroke-width="1.15"/>
<line x1="191.75" y1="304.84" x2="191.75" y2="290.85" stroke="#1a1a1a" stroke-width="1.25"/>
<line x1="189.35" y1="290.85" x2="194.15" y2="290.85" stroke="#1a1a1a" stroke-width="1.25"/>
<rect x="187.80" y="305.34" width="7.90" height="67.26" fill="url(#pH)" stroke="#1a1a1a" stroke-width="1.15"/>
<line x1="203.65" y1="338.23" x2="203.65" y2="332.34" stroke="#1a1a1a" stroke-width="1.25"/>
<line x1="201.25" y1="332.34" x2="206.05" y2="332.34" stroke="#1a1a1a" stroke-width="1.25"/>
<rect x="199.70" y="338.73" width="7.90" height="33.87" fill="url(#pB)" stroke="#1a1a1a" stroke-width="1.15"/>
<rect x="66.50" y="252.10" width="11.60" height="5.50" fill="url(#pN)" stroke="#1a1a1a" stroke-width="1.4"/>
<text class="r" transform="translate(85.00 258.20) scale(0.93 1)" font-size="9.85" text-anchor="start">NCD</text>
<rect x="66.50" y="260.50" width="11.60" height="5.50" fill="url(#pH)" stroke="#1a1a1a" stroke-width="1.4"/>
<text class="r" transform="translate(85.00 266.60) scale(0.93 1)" font-size="9.85" text-anchor="start">HFD</text>
<rect x="66.50" y="268.90" width="11.60" height="5.50" fill="url(#pB)" stroke="#1a1a1a" stroke-width="1.4"/>
<text class="r" transform="translate(85.00 275.00) scale(0.93 1)" font-size="9.85" text-anchor="start">HFD+BBR</text>
<line x1="120.40" y1="287.30" x2="150.40" y2="287.30" stroke="#1a1a1a" stroke-width="1.1"/>
<line x1="120.40" y1="284.10" x2="120.40" y2="290.50" stroke="#1a1a1a" stroke-width="1.1"/>
<line x1="150.40" y1="284.10" x2="150.40" y2="290.50" stroke="#1a1a1a" stroke-width="1.1"/>
<text class="r" transform="translate(134.20 286.60) scale(0.92 1)" font-size="7.5" text-anchor="middle">*</text>
<line x1="122.70" y1="298.40" x2="137.20" y2="298.40" stroke="#1a1a1a" stroke-width="1.1"/>
<line x1="122.70" y1="295.20" x2="122.70" y2="301.60" stroke="#1a1a1a" stroke-width="1.1"/>
<line x1="137.20" y1="295.20" x2="137.20" y2="301.60" stroke="#1a1a1a" stroke-width="1.1"/>
<text class="r" transform="translate(131.00 296.80) scale(0.92 1)" font-size="7.5" text-anchor="middle">*</text>
<line x1="343.10" y1="250.00" x2="343.10" y2="355.80" stroke="#1a1a1a" stroke-width="1.0"/>
<line x1="342.60" y1="355.30" x2="500.00" y2="355.30" stroke="#1a1a1a" stroke-width="1.0"/>
<line x1="340.10" y1="355.30" x2="343.10" y2="355.30" stroke="#1a1a1a" stroke-width="1"/>
<text class="b" transform="translate(339.50 358.10) scale(0.92 1)" font-size="8.6" text-anchor="end">0</text>
<line x1="340.10" y1="333.40" x2="343.10" y2="333.40" stroke="#1a1a1a" stroke-width="1"/>
<text class="b" transform="translate(339.50 336.20) scale(0.92 1)" font-size="8.6" text-anchor="end">5</text>
<line x1="340.10" y1="311.50" x2="343.10" y2="311.50" stroke="#1a1a1a" stroke-width="1"/>
<text class="b" transform="translate(339.50 314.30) scale(0.92 1)" font-size="8.6" text-anchor="end">10</text>
<line x1="340.10" y1="289.60" x2="343.10" y2="289.60" stroke="#1a1a1a" stroke-width="1"/>
<text class="b" transform="translate(339.50 292.40) scale(0.92 1)" font-size="8.6" text-anchor="end">15</text>
<line x1="340.10" y1="267.70" x2="343.10" y2="267.70" stroke="#1a1a1a" stroke-width="1"/>
<text class="b" transform="translate(339.50 270.50) scale(0.92 1)" font-size="8.6" text-anchor="end">20</text>
<line x1="368.60" y1="355.30" x2="368.60" y2="358.60" stroke="#1a1a1a" stroke-width="1"/>
<text class="b" transform="translate(368.60 365.90) scale(0.92 1)" font-size="8.6" text-anchor="middle">0</text>
<line x1="420.35" y1="355.30" x2="420.35" y2="358.60" stroke="#1a1a1a" stroke-width="1"/>
<text class="b" transform="translate(420.35 365.90) scale(0.92 1)" font-size="8.6" text-anchor="middle">4</text>
<line x1="472.10" y1="355.30" x2="472.10" y2="358.60" stroke="#1a1a1a" stroke-width="1"/>
<text class="b" transform="translate(472.10 365.90) scale(0.92 1)" font-size="8.6" text-anchor="middle">8</text>
<text class="b" transform="translate(421.00 376.70) scale(0.92 1)" font-size="8.6" text-anchor="middle">Months</text>
<text class="b" transform="translate(313.60 303.30) scale(0.92 1) rotate(-90)" font-size="8.0" text-anchor="middle">HOMA-IR index</text>
<line x1="352.00" y1="336.47" x2="352.00" y2="332.96" stroke="#1a1a1a" stroke-width="1.25"/>
<line x1="349.60" y1="332.96" x2="354.40" y2="332.96" stroke="#1a1a1a" stroke-width="1.25"/>
<rect x="348.50" y="336.97" width="7.00" height="18.33" fill="url(#pN)" stroke="#1a1a1a" stroke-width="1.15"/>
<line x1="363.10" y1="325.21" x2="363.10" y2="322.14" stroke="#1a1a1a" stroke-width="1.25"/>
<line x1="360.70" y1="322.14" x2="365.50" y2="322.14" stroke="#1a1a1a" stroke-width="1.25"/>
<rect x="359.60" y="325.71" width="7.00" height="29.59" fill="url(#pH)" stroke="#1a1a1a" stroke-width="1.15"/>
<line x1="374.20" y1="327.27" x2="374.20" y2="323.11" stroke="#1a1a1a" stroke-width="1.25"/>
<line x1="371.80" y1="323.11" x2="376.60" y2="323.11" stroke="#1a1a1a" stroke-width="1.25"/>
<rect x="370.70" y="327.77" width="7.00" height="27.53" fill="url(#pB)" stroke="#1a1a1a" stroke-width="1.15"/>
<line x1="403.90" y1="332.31" x2="403.90" y2="328.80" stroke="#1a1a1a" stroke-width="1.25"/>
<line x1="401.50" y1="328.80" x2="406.30" y2="328.80" stroke="#1a1a1a" stroke-width="1.25"/>
<rect x="400.40" y="332.81" width="7.00" height="22.50" fill="url(#pN)" stroke="#1a1a1a" stroke-width="1.15"/>
<line x1="415.00" y1="312.20" x2="415.00" y2="304.62" stroke="#1a1a1a" stroke-width="1.25"/>
<line x1="412.60" y1="304.62" x2="417.40" y2="304.62" stroke="#1a1a1a" stroke-width="1.25"/>
<rect x="411.50" y="312.70" width="7.00" height="42.60" fill="url(#pH)" stroke="#1a1a1a" stroke-width="1.15"/>
<line x1="426.10" y1="310.19" x2="426.10" y2="300.33" stroke="#1a1a1a" stroke-width="1.25"/>
<line x1="423.70" y1="300.33" x2="428.50" y2="300.33" stroke="#1a1a1a" stroke-width="1.25"/>
<rect x="422.60" y="310.69" width="7.00" height="44.61" fill="url(#pB)" stroke="#1a1a1a" stroke-width="1.15"/>
<line x1="455.80" y1="321.66" x2="455.80" y2="307.43" stroke="#1a1a1a" stroke-width="1.25"/>
<line x1="453.40" y1="307.43" x2="458.20" y2="307.43" stroke="#1a1a1a" stroke-width="1.25"/>
<rect x="452.30" y="322.16" width="7.00" height="33.14" fill="url(#pN)" stroke="#1a1a1a" stroke-width="1.15"/>
<line x1="466.90" y1="280.84" x2="466.90" y2="264.20" stroke="#1a1a1a" stroke-width="1.25"/>
<line x1="464.50" y1="264.20" x2="469.30" y2="264.20" stroke="#1a1a1a" stroke-width="1.25"/>
<rect x="463.40" y="281.34" width="7.00" height="73.96" fill="url(#pH)" stroke="#1a1a1a" stroke-width="1.15"/>
<line x1="478.00" y1="323.33" x2="478.00" y2="317.41" stroke="#1a1a1a" stroke-width="1.25"/>
<line x1="475.60" y1="317.41" x2="480.40" y2="317.41" stroke="#1a1a1a" stroke-width="1.25"/>
<rect x="474.50" y="323.83" width="7.00" height="31.47" fill="url(#pB)" stroke="#1a1a1a" stroke-width="1.15"/>
<rect x="356.00" y="250.10" width="10.90" height="4.90" fill="url(#pN)" stroke="#1a1a1a" stroke-width="1.4"/>
<text class="r" transform="translate(373.90 255.60) scale(0.85 1)" font-size="9.4" text-anchor="start">NCD</text>
<rect x="356.00" y="258.55" width="10.90" height="4.90" fill="url(#pH)" stroke="#1a1a1a" stroke-width="1.4"/>
<text class="r" transform="translate(373.90 264.05) scale(0.85 1)" font-size="9.4" text-anchor="start">HFD</text>
<rect x="356.00" y="267.00" width="10.90" height="4.90" fill="url(#pB)" stroke="#1a1a1a" stroke-width="1.4"/>
<text class="r" transform="translate(373.90 272.50) scale(0.85 1)" font-size="9.4" text-anchor="start">HFD+BBR</text>
<line x1="57.30" y1="443.60" x2="57.30" y2="548.60" stroke="#1a1a1a" stroke-width="1.0"/>
<line x1="56.80" y1="548.10" x2="213.50" y2="548.10" stroke="#1a1a1a" stroke-width="1.0"/>
<line x1="54.30" y1="548.10" x2="57.30" y2="548.10" stroke="#1a1a1a" stroke-width="1"/>
<text class="b" transform="translate(53.70 550.90) scale(0.92 1)" font-size="8.6" text-anchor="end">0.0</text>
<line x1="54.30" y1="527.30" x2="57.30" y2="527.30" stroke="#1a1a1a" stroke-width="1"/>
<text class="b" transform="translate(53.70 530.10) scale(0.92 1)" font-size="8.6" text-anchor="end">0.1</text>
<line x1="54.30" y1="506.50" x2="57.30" y2="506.50" stroke="#1a1a1a" stroke-width="1"/>
<text class="b" transform="translate(53.70 509.30) scale(0.92 1)" font-size="8.6" text-anchor="end">0.2</text>
<line x1="54.30" y1="485.70" x2="57.30" y2="485.70" stroke="#1a1a1a" stroke-width="1"/>
<text class="b" transform="translate(53.70 488.50) scale(0.92 1)" font-size="8.6" text-anchor="end">0.3</text>
<line x1="54.30" y1="464.90" x2="57.30" y2="464.90" stroke="#1a1a1a" stroke-width="1"/>
<text class="b" transform="translate(53.70 467.70) scale(0.92 1)" font-size="8.6" text-anchor="end">0.4</text>
<line x1="54.30" y1="444.10" x2="57.30" y2="444.10" stroke="#1a1a1a" stroke-width="1"/>
<text class="b" transform="translate(53.70 446.90) scale(0.92 1)" font-size="8.6" text-anchor="end">0.5</text>
<line x1="82.50" y1="548.10" x2="82.50" y2="551.40" stroke="#1a1a1a" stroke-width="1"/>
<text class="b" transform="translate(82.50 558.70) scale(0.92 1)" font-size="8.6" text-anchor="middle">0</text>
<line x1="134.10" y1="548.10" x2="134.10" y2="551.40" stroke="#1a1a1a" stroke-width="1"/>
<text class="b" transform="translate(134.10 558.70) scale(0.92 1)" font-size="8.6" text-anchor="middle">4</text>
<line x1="185.70" y1="548.10" x2="185.70" y2="551.40" stroke="#1a1a1a" stroke-width="1"/>
<text class="b" transform="translate(185.70 558.70) scale(0.92 1)" font-size="8.6" text-anchor="middle">8</text>
<text class="b" transform="translate(134.00 571.00) scale(0.92 1)" font-size="8.6" text-anchor="middle">Months</text>
<text class="b" transform="translate(38.00 498.30) scale(0.92 1) rotate(-90)" font-size="8.0" text-anchor="middle">serum LDL-C(mmol/l)</text>
<line x1="66.00" y1="504.63" x2="66.00" y2="500.26" stroke="#1a1a1a" stroke-width="1.25"/>
<line x1="63.60" y1="500.26" x2="68.40" y2="500.26" stroke="#1a1a1a" stroke-width="1.25"/>
<rect x="62.60" y="505.13" width="6.80" height="42.97" fill="url(#pN)" stroke="#1a1a1a" stroke-width="1.15"/>
<line x1="77.20" y1="498.80" x2="77.20" y2="496.93" stroke="#1a1a1a" stroke-width="1.25"/>
<line x1="74.80" y1="496.93" x2="79.60" y2="496.93" stroke="#1a1a1a" stroke-width="1.25"/>
<rect x="73.80" y="499.30" width="6.80" height="48.80" fill="url(#pH)" stroke="#1a1a1a" stroke-width="1.15"/>
<line x1="88.40" y1="510.04" x2="88.40" y2="505.46" stroke="#1a1a1a" stroke-width="1.25"/>
<line x1="86.00" y1="505.46" x2="90.80" y2="505.46" stroke="#1a1a1a" stroke-width="1.25"/>
<rect x="85.00" y="510.54" width="6.80" height="37.56" fill="url(#pB)" stroke="#1a1a1a" stroke-width="1.15"/>
<line x1="118.00" y1="508.79" x2="118.00" y2="506.50" stroke="#1a1a1a" stroke-width="1.25"/>
<line x1="115.60" y1="506.50" x2="120.40" y2="506.50" stroke="#1a1a1a" stroke-width="1.25"/>
<rect x="114.60" y="509.29" width="6.80" height="38.81" fill="url(#pN)" stroke="#1a1a1a" stroke-width="1.15"/>
<line x1="129.20" y1="499.01" x2="129.20" y2="496.72" stroke="#1a1a1a" stroke-width="1.25"/>
<line x1="126.80" y1="496.72" x2="131.60" y2="496.72" stroke="#1a1a1a" stroke-width="1.25"/>
<rect x="125.80" y="499.51" width="6.80" height="48.59" fill="url(#pH)" stroke="#1a1a1a" stroke-width="1.15"/>
<line x1="140.40" y1="505.46" x2="140.40" y2="500.26" stroke="#1a1a1a" stroke-width="1.25"/>
<line x1="138.00" y1="500.26" x2="142.80" y2="500.26" stroke="#1a1a1a" stroke-width="1.25"/>
<rect x="137.00" y="505.96" width="6.80" height="42.14" fill="url(#pB)" stroke="#1a1a1a" stroke-width="1.15"/>
<line x1="170.00" y1="486.53" x2="170.00" y2="478.42" stroke="#1a1a1a" stroke-width="1.25"/>
<line x1="167.60" y1="478.42" x2="172.40" y2="478.42" stroke="#1a1a1a" stroke-width="1.25"/>
<rect x="166.60" y="487.03" width="6.80" height="61.07" fill="url(#pN)" stroke="#1a1a1a" stroke-width="1.15"/>
<line x1="181.20" y1="464.07" x2="181.20" y2="456.37" stroke="#1a1a1a" stroke-width="1.25"/>
<line x1="178.80" y1="456.37" x2="183.60" y2="456.37" stroke="#1a1a1a" stroke-width="1.25"/>
<rect x="177.80" y="464.57" width="6.80" height="83.53" fill="url(#pH)" stroke="#1a1a1a" stroke-width="1.15"/>
<line x1="192.40" y1="496.10" x2="192.40" y2="489.65" stroke="#1a1a1a" stroke-width="1.25"/>
<line x1="190.00" y1="489.65" x2="194.80" y2="489.65" stroke="#1a1a1a" stroke-width="1.25"/>
<rect x="189.00" y="496.60" width="6.80" height="51.50" fill="url(#pB)" stroke="#1a1a1a" stroke-width="1.15"/>
<rect x="68.70" y="446.70" width="11.10" height="4.80" fill="url(#pN)" stroke="#1a1a1a" stroke-width="1.4"/>
<text class="r" transform="translate(86.70 452.10) scale(0.87 1)" font-size="9.3" text-anchor="start">NCD</text>
<rect x="68.70" y="456.00" width="11.10" height="4.80" fill="url(#pH)" stroke="#1a1a1a" stroke-width="1.4"/>
<text class="r" transform="translate(86.70 461.40) scale(0.87 1)" font-size="9.3" text-anchor="start">HFD</text>
<rect x="68.70" y="465.30" width="11.10" height="4.80" fill="url(#pB)" stroke="#1a1a1a" stroke-width="1.4"/>
<text class="r" transform="translate(86.70 470.70) scale(0.87 1)" font-size="9.3" text-anchor="start">HFD+BBR</text>
<line x1="164.00" y1="449.30" x2="177.50" y2="449.30" stroke="#1a1a1a" stroke-width="1.1"/>
<line x1="164.00" y1="446.10" x2="164.00" y2="452.50" stroke="#1a1a1a" stroke-width="1.1"/>
<line x1="177.50" y1="446.10" x2="177.50" y2="452.50" stroke="#1a1a1a" stroke-width="1.1"/>
<text class="r" transform="translate(170.00 448.60) scale(0.92 1)" font-size="7.5" text-anchor="middle">*</text>
<line x1="181.70" y1="449.30" x2="197.60" y2="449.30" stroke="#1a1a1a" stroke-width="1.1"/>
<line x1="181.70" y1="446.10" x2="181.70" y2="452.50" stroke="#1a1a1a" stroke-width="1.1"/>
<line x1="197.60" y1="446.10" x2="197.60" y2="452.50" stroke="#1a1a1a" stroke-width="1.1"/>
<text class="r" transform="translate(189.80 450.20) scale(0.92 1)" font-size="7.5" text-anchor="middle">*</text>
<line x1="341.60" y1="453.60" x2="341.60" y2="558.30" stroke="#1a1a1a" stroke-width="1.0"/>
<line x1="341.10" y1="557.80" x2="498.50" y2="557.80" stroke="#1a1a1a" stroke-width="1.0"/>
<line x1="338.60" y1="557.80" x2="341.60" y2="557.80" stroke="#1a1a1a" stroke-width="1"/>
<text class="b" transform="translate(338.00 560.60) scale(0.92 1)" font-size="8.6" text-anchor="end">0.0</text>
<line x1="338.60" y1="537.05" x2="341.60" y2="537.05" stroke="#1a1a1a" stroke-width="1"/>
<text class="b" transform="translate(338.00 539.85) scale(0.92 1)" font-size="8.6" text-anchor="end">0.5</text>
<line x1="338.60" y1="516.30" x2="341.60" y2="516.30" stroke="#1a1a1a" stroke-width="1"/>
<text class="b" transform="translate(338.00 519.10) scale(0.92 1)" font-size="8.6" text-anchor="end">1.0</text>
<line x1="338.60" y1="495.55" x2="341.60" y2="495.55" stroke="#1a1a1a" stroke-width="1"/>
<text class="b" transform="translate(338.00 498.35) scale(0.92 1)" font-size="8.6" text-anchor="end">1.5</text>
<line x1="338.60" y1="474.80" x2="341.60" y2="474.80" stroke="#1a1a1a" stroke-width="1"/>
<text class="b" transform="translate(338.00 477.60) scale(0.92 1)" font-size="8.6" text-anchor="end">2.0</text>
<line x1="338.60" y1="454.05" x2="341.60" y2="454.05" stroke="#1a1a1a" stroke-width="1"/>
<text class="b" transform="translate(338.00 456.85) scale(0.92 1)" font-size="8.6" text-anchor="end">2.5</text>
<line x1="367.90" y1="557.80" x2="367.90" y2="561.10" stroke="#1a1a1a" stroke-width="1"/>
<text class="b" transform="translate(367.90 568.40) scale(0.92 1)" font-size="8.6" text-anchor="middle">0</text>
<line x1="419.40" y1="557.80" x2="419.40" y2="561.10" stroke="#1a1a1a" stroke-width="1"/>
<text class="b" transform="translate(419.40 568.40) scale(0.92 1)" font-size="8.6" text-anchor="middle">4</text>
<line x1="470.90" y1="557.80" x2="470.90" y2="561.10" stroke="#1a1a1a" stroke-width="1"/>
<text class="b" transform="translate(470.90 568.40) scale(0.92 1)" font-size="8.6" text-anchor="middle">8</text>
<text class="b" transform="translate(419.50 580.50) scale(0.92 1)" font-size="8.6" text-anchor="middle">Months</text>
<text class="b" transform="translate(323.00 506.30) scale(0.92 1) rotate(-90)" font-size="8.0" text-anchor="middle">serum TC(mmol/l)</text>
<line x1="351.75" y1="489.12" x2="351.75" y2="483.93" stroke="#1a1a1a" stroke-width="1.25"/>
<line x1="349.35" y1="483.93" x2="354.15" y2="483.93" stroke="#1a1a1a" stroke-width="1.25"/>
<rect x="348.20" y="489.62" width="7.10" height="68.18" fill="url(#pN)" stroke="#1a1a1a" stroke-width="1.15"/>
<line x1="362.75" y1="490.78" x2="362.75" y2="487.87" stroke="#1a1a1a" stroke-width="1.25"/>
<line x1="360.35" y1="487.87" x2="365.15" y2="487.87" stroke="#1a1a1a" stroke-width="1.25"/>
<rect x="359.20" y="491.28" width="7.10" height="66.52" fill="url(#pH)" stroke="#1a1a1a" stroke-width="1.15"/>
<line x1="373.75" y1="498.45" x2="373.75" y2="494.30" stroke="#1a1a1a" stroke-width="1.25"/>
<line x1="371.35" y1="494.30" x2="376.15" y2="494.30" stroke="#1a1a1a" stroke-width="1.25"/>
<rect x="370.20" y="498.95" width="7.10" height="58.85" fill="url(#pB)" stroke="#1a1a1a" stroke-width="1.15"/>
<line x1="403.15" y1="493.18" x2="403.15" y2="489.45" stroke="#1a1a1a" stroke-width="1.25"/>
<line x1="400.75" y1="489.45" x2="405.55" y2="489.45" stroke="#1a1a1a" stroke-width="1.25"/>
<rect x="399.60" y="493.68" width="7.10" height="64.12" fill="url(#pN)" stroke="#1a1a1a" stroke-width="1.15"/>
<line x1="414.15" y1="488.49" x2="414.15" y2="486.83" stroke="#1a1a1a" stroke-width="1.25"/>
<line x1="411.75" y1="486.83" x2="416.55" y2="486.83" stroke="#1a1a1a" stroke-width="1.25"/>
<rect x="410.60" y="488.99" width="7.10" height="68.81" fill="url(#pH)" stroke="#1a1a1a" stroke-width="1.15"/>
<line x1="425.15" y1="493.47" x2="425.15" y2="487.66" stroke="#1a1a1a" stroke-width="1.25"/>
<line x1="422.75" y1="487.66" x2="427.55" y2="487.66" stroke="#1a1a1a" stroke-width="1.25"/>
<rect x="421.60" y="493.97" width="7.10" height="63.82" fill="url(#pB)" stroke="#1a1a1a" stroke-width="1.15"/>
<line x1="454.55" y1="483.10" x2="454.55" y2="482.27" stroke="#1a1a1a" stroke-width="1.25"/>
<line x1="452.15" y1="482.27" x2="456.95" y2="482.27" stroke="#1a1a1a" stroke-width="1.25"/>
<rect x="451.00" y="483.60" width="7.10" height="74.20" fill="url(#pN)" stroke="#1a1a1a" stroke-width="1.15"/>
<line x1="465.55" y1="468.99" x2="465.55" y2="460.69" stroke="#1a1a1a" stroke-width="1.25"/>
<line x1="463.15" y1="460.69" x2="467.95" y2="460.69" stroke="#1a1a1a" stroke-width="1.25"/>
<rect x="462.00" y="469.49" width="7.10" height="88.31" fill="url(#pH)" stroke="#1a1a1a" stroke-width="1.15"/>
<line x1="476.55" y1="493.47" x2="476.55" y2="489.32" stroke="#1a1a1a" stroke-width="1.25"/>
<line x1="474.15" y1="489.32" x2="478.95" y2="489.32" stroke="#1a1a1a" stroke-width="1.25"/>
<rect x="473.00" y="493.97" width="7.10" height="63.82" fill="url(#pB)" stroke="#1a1a1a" stroke-width="1.15"/>
<rect x="356.70" y="450.50" width="10.80" height="5.00" fill="url(#pN)" stroke="#1a1a1a" stroke-width="1.4"/>
<text class="r" transform="translate(374.10 456.10) scale(0.85 1)" font-size="9.6" text-anchor="start">NCD</text>
<rect x="356.70" y="460.50" width="10.80" height="5.00" fill="url(#pH)" stroke="#1a1a1a" stroke-width="1.4"/>
<text class="r" transform="translate(374.10 466.10) scale(0.85 1)" font-size="9.6" text-anchor="start">HFD</text>
<rect x="356.70" y="470.50" width="10.80" height="5.00" fill="url(#pB)" stroke="#1a1a1a" stroke-width="1.4"/>
<text class="r" transform="translate(374.10 476.10) scale(0.85 1)" font-size="9.6" text-anchor="start">HFD+BBR</text>
<line x1="465.70" y1="454.60" x2="480.40" y2="454.60" stroke="#1a1a1a" stroke-width="1.1"/>
<line x1="465.70" y1="451.40" x2="465.70" y2="457.80" stroke="#1a1a1a" stroke-width="1.1"/>
<line x1="480.40" y1="451.40" x2="480.40" y2="457.80" stroke="#1a1a1a" stroke-width="1.1"/>
<text class="r" transform="translate(472.80 452.60) scale(0.92 1)" font-size="7.5" text-anchor="middle">*</text>
</g></svg></body></html>
